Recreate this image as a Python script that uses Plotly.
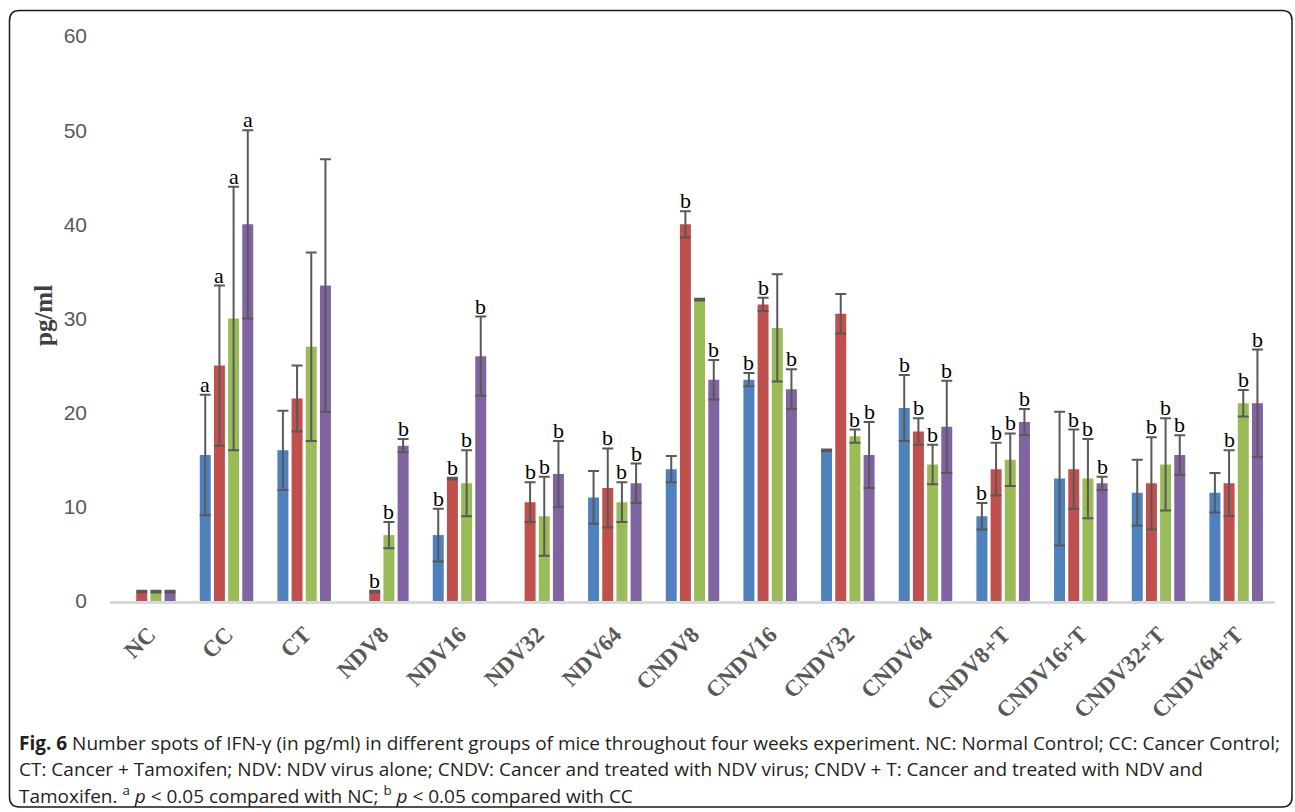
import plotly.graph_objects as go

# Group names on the x axis
groups = ["NC", "CC", "CT", "NDV8", "NDV16", "NDV32", "NDV64",
          "CNDV8", "CNDV16", "CNDV32", "CNDV64",
          "CNDV8+T", "CNDV16+T", "CNDV32+T", "CNDV64+T"]

# IFN-gamma (pg/ml), one series per week, with error half-widths
week1 = [None, 15.5, 16, None, 7, None, 11, 14, 23.5, 16, 20.5, 9, 13, 11.5, 11.5]
week1_err = [None, 6.4, 4.2, None, 2.8, None, 2.8, 1.4, 0.7, 0.1, 3.5, 1.4, 7.1, 3.5, 2.1]
week2 = [1, 25, 21.5, 1, 13, 10.5, 12, 40, 31.5, 30.5, 18, 14, 14, 12.5, 12.5]
week2_err = [0.1, 8.5, 3.5, 0.1, 0.1, 2.1, 4.2, 1.4, 0.7, 2.1, 1.4, 2.8, 4.2, 4.9, 3.5]
week3 = [1, 30, 27, 7, 12.5, 9, 10.5, 32, 29, 17.5, 14.5, 15, 13, 14.5, 21]
week3_err = [0.1, 14, 10, 1.4, 3.5, 4.2, 2.1, 0.1, 5.7, 0.7, 2.1, 2.8, 4.2, 4.9, 1.4]
week4 = [1, 40, 33.5, 16.5, 26, 13.5, 12.5, 23.5, 22.5, 15.5, 18.5, 19, 12.5, 15.5, 21]
week4_err = [0.1, 10, 13.4, 0.7, 4.2, 3.5, 2.1, 2.1, 2.1, 3.5, 4.9, 1.4, 0.7, 2.1, 5.7]

# Significance letters (a: vs NC, b: vs CC)
week1_sig = ["", "a", "", "", "b", "", "", "", "b", "", "b", "b", "", "", ""]
week2_sig = ["", "a", "", "b", "b", "b", "b", "b", "b", "", "b", "b", "b", "b", "b"]
week3_sig = ["", "a", "", "b", "b", "b", "b", "", "", "b", "b", "b", "b", "b", "b"]
week4_sig = ["", "a", "", "b", "b", "b", "b", "b", "b", "b", "b", "b", "b", "b", "b"]

y_ticks = [0, 10, 20, 30, 40, 50, 60]

series = [
    ("Week 1", week1, week1_err, week1_sig, "#4F81BD"),
    ("Week 2", week2, week2_err, week2_sig, "#C0504D"),
    ("Week 3", week3, week3_err, week3_sig, "#9BBB59"),
    ("Week 4", week4, week4_err, week4_sig, "#8064A2"),
]

W, H = 1295, 812
L, R, T, B = 110, 20, 36, 211
BARGAP = 0.27
BARGROUPGAP = 0.225

fig = go.Figure()
for name, vals, errs, _, color in series:
    fig.add_trace(go.Bar(
        name=name, x=groups, y=vals,
        marker=dict(color=color, line=dict(width=0)),
        error_y=dict(type="data", array=errs, visible=True,
                     color="#595959", thickness=2, width=5.5),
        showlegend=False,
    ))

# letters above each error bar
slot = (1 - BARGAP) / len(series)
annotations = []
for k, (name, vals, errs, sig, color) in enumerate(series):
    offset = (k - (len(series) - 1) / 2) * slot
    for i, s in enumerate(sig):
        if not s:
            continue
        annotations.append(dict(
            x=i + offset, y=vals[i] + errs[i], xref="x", yref="y",
            text=s, showarrow=False, yanchor="bottom", xanchor="center",
            yshift=-4, font=dict(family="Liberation Serif", size=22, color="#000000"),
        ))

pw, ph = W - L - R, H - T - B


def px(x):
    return (x - L) / pw


def py(y):
    return (H - B - y) / ph


# y-axis title
annotations.append(dict(
    x=px(43), y=py(316), xref="paper", yref="paper", text="<b>pg/ml</b>",
    textangle=-90, showarrow=False, xanchor="center", yanchor="middle",
    font=dict(family="Liberation Serif", size=25, color="#404040"),
))

# caption
cap_font = dict(family="Open Sans", size=19, color="#231f20")
caption = [
    "<b>Fig. 6</b> Number spots of IFN-γ (in pg/ml) in different groups of mice throughout four weeks experiment. NC: Normal Control; CC: Cancer Control;",
    "CT: Cancer + Tamoxifen; NDV: NDV virus alone; CNDV: Cancer and treated with NDV virus; CNDV + T: Cancer and treated with NDV and",
    "Tamoxifen. <sup>a</sup> <i>p</i> &lt; 0.05 compared with NC; <sup>b</sup> <i>p</i> &lt; 0.05 compared with CC",
]
for j, line in enumerate(caption):
    annotations.append(dict(
        x=px(17), y=py(743 + 26 * j), xref="paper", yref="paper", text=line,
        showarrow=False, xanchor="left", yanchor="middle", font=cap_font,
    ))

# rounded frame around the whole figure
x0, x1, y0, y1, r = 9.5, 1292, 10.5, 807, 10
rx, ry = r / pw, r / ph
fx0, fx1, fy0, fy1 = px(x0), px(x1), py(y0), py(y1)
frame = (f"M {fx0 + rx} {fy0} L {fx1 - rx} {fy0} Q {fx1} {fy0} {fx1} {fy0 - ry} "
         f"L {fx1} {fy1 + ry} Q {fx1} {fy1} {fx1 - rx} {fy1} "
         f"L {fx0 + rx} {fy1} Q {fx0} {fy1} {fx0} {fy1 + ry} "
         f"L {fx0} {fy0 - ry} Q {fx0} {fy0} {fx0 + rx} {fy0} Z")

fig.update_layout(
    width=W, height=H,
    margin=dict(l=L, r=R, t=T, b=B, pad=0),
    paper_bgcolor="white", plot_bgcolor="white",
    barmode="group", bargap=BARGAP, bargroupgap=BARGROUPGAP,
    annotations=annotations,
    shapes=[dict(type="path", path=frame, xref="paper", yref="paper",
                 line=dict(color="#1a1a1a", width=1.5), layer="above")],
    xaxis=dict(
        type="category", tickangle=-45, showgrid=False,
        showline=True, linecolor="#d9d9d9", linewidth=3,
        ticks="", ticklabelstandoff=8,
        tickfont=dict(family="Liberation Serif", size=23, color="#595959", weight="bold"),
    ),
    yaxis=dict(
        range=[0, 60], tickvals=y_ticks, showgrid=False, zeroline=False,
        showline=False, ticks="", ticklabelstandoff=22,
        tickfont=dict(family="Liberation Sans", size=21, color="#595959"),
    ),
)

fig.write_html("out.html")
